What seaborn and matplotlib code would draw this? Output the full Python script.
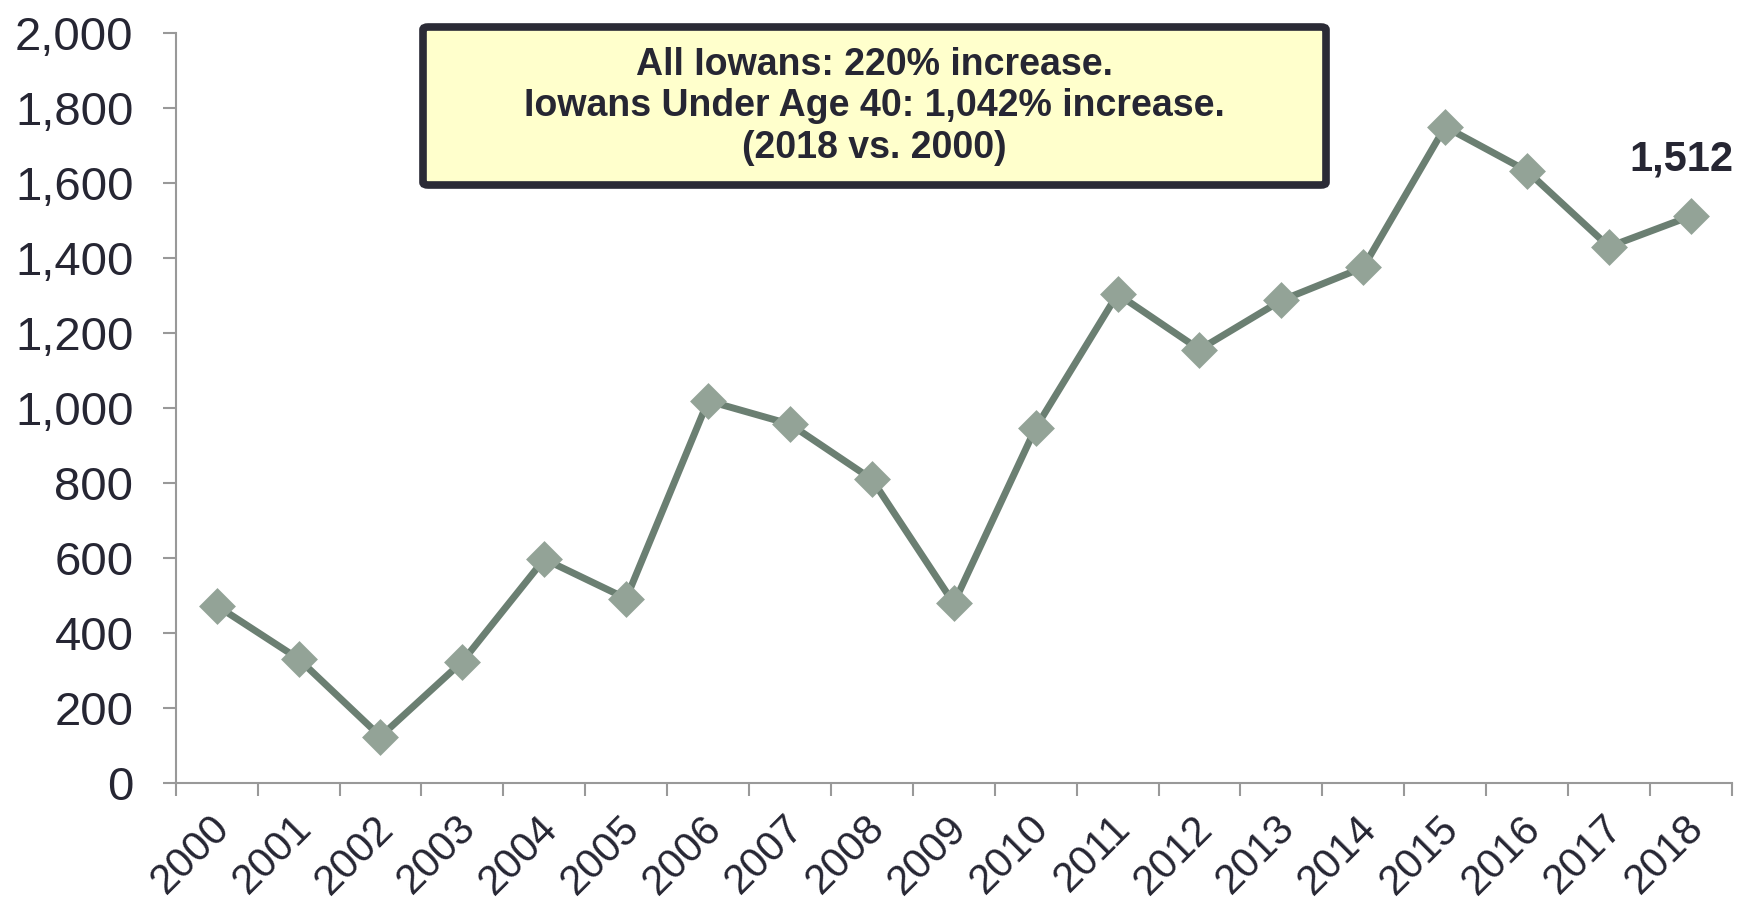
import matplotlib
matplotlib.use("Agg")
import matplotlib.pyplot as plt
from matplotlib.patches import FancyBboxPatch
from matplotlib.ticker import FixedLocator, FuncFormatter
from matplotlib.transforms import ScaledTranslation
import numpy as np
import pandas as pd
import seaborn as sns

years = [str(y) for y in range(2000, 2019)]
counts = [473, 331, 124, 324, 597, 492, 1019, 957, 810, 479,
          947, 1304, 1156, 1287, 1375, 1750, 1632, 1430, 1512]
y_ticks = list(range(0, 2001, 200))
box_lines = ["All Iowans: 220% increase.",
             "Iowans Under Age 40: 1,042% increase.",
             "(2018 vs. 2000)"]

LINE = "#6b7f72"
MARK = "#93a397"
TEXT = "#262633"
AXIS = "#999999"

sns.set_theme(style="white")
plt.rcParams["font.family"] = ["Liberation Sans", "DejaVu Sans"]

fig = plt.figure(figsize=(17.4, 9.05), dpi=100)
ax = fig.add_axes([0.101, 0.1348, 0.8943, 0.8287])

df = pd.DataFrame({"year": years, "count": counts})
sns.pointplot(data=df, x="year", y="count", ax=ax, errorbar=None,
              color=LINE, markers="D", linewidth=5)
for ln in ax.lines:
    ln.set_markerfacecolor(MARK)
    ln.set_markeredgecolor(MARK)
    ln.set_markeredgewidth(3.5)
    ln.set_markersize(15.5)
    ln.set_linewidth(5)
    ln.set_color(LINE)
    ln.set_solid_joinstyle("round")

ax.set_xlim(-0.5, len(years) - 0.5)
ax.set_ylim(0, 2000)
ax.set_xlabel("")
ax.set_ylabel("")

ax.yaxis.set_major_locator(FixedLocator(y_ticks))
ax.yaxis.set_major_formatter(FuncFormatter(lambda v, p: f"{int(v):,}"))
ax.tick_params(axis="y", which="major", length=9.5, width=1.5, color=AXIS,
               labelsize=34, labelcolor=TEXT, pad=21, left=True)

ax.set_xticks(range(len(years)))
ax.set_xticklabels(years, rotation=45, ha="right", rotation_mode="anchor")
ax.tick_params(axis="x", which="major", length=0, labelsize=30,
               labelcolor=TEXT, pad=18)
shift = ScaledTranslation(-7 / 100, 0, fig.dpi_scale_trans)
for lab in ax.get_xticklabels():
    lab.set_transform(lab.get_transform() + shift)
ax.xaxis.set_minor_locator(FixedLocator(np.arange(-0.5, len(years), 1.0)))
ax.tick_params(axis="x", which="minor", length=9, width=1.5, color=AXIS,
               bottom=True)

for side in ["top", "right"]:
    ax.spines[side].set_visible(False)
for side in ["left", "bottom"]:
    ax.spines[side].set_color(AXIS)
    ax.spines[side].set_linewidth(1.5)

# value label on the last point
ax.annotate(f"{counts[-1]:,}", xy=(len(years) - 1, counts[-1]),
            xytext=(-6.5, 41), textcoords="offset points",
            ha="center", va="center", fontsize=30, fontweight="bold",
            color=TEXT)

# summary box
W, H = 1740, 905
x0, x1, y0, y1 = 423, 1326, 27, 185
box = FancyBboxPatch((x0 / W, 1 - y1 / H), (x1 - x0) / W, (y1 - y0) / H,
                     boxstyle="round,pad=0,rounding_size=0.003",
                     transform=fig.transFigure, facecolor="#ffffcc",
                     edgecolor="#2b2b36", linewidth=5.5, zorder=5)
fig.patches.append(box)
for txt, yb in zip(box_lines, [75, 116.5, 158]):
    fig.text((x0 + x1) / 2 / W, 1 - yb / H, txt, ha="center", va="baseline",
             fontsize=27, fontweight="bold", color=TEXT, zorder=6)

fig.savefig("out.png", dpi=100)
